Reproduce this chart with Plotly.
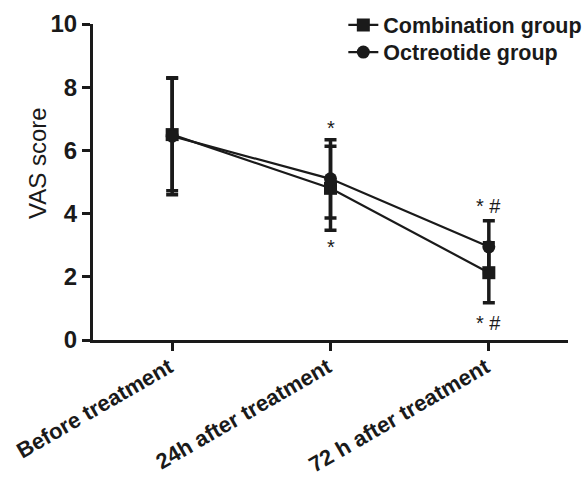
import plotly.graph_objects as go

categories = ["Before treatment", "24h after treatment", "72 h after treatment"]
combination_mean = [6.50, 4.80, 2.13]
combination_sd = [1.78, 1.33, 0.95]
octreotide_mean = [6.45, 5.10, 2.95]
octreotide_sd = [1.85, 1.24, 0.82]
y_ticks = [0, 2, 4, 6, 8, 10]
y_title = "VAS score"

# significance marks: (category index, y value, text)
marks_x = [1, 1, 2, 2]
marks_y = [6.72, 2.95, 4.25, 0.55]
marks_text = ["*", "*", "* #", "* #"]

FONT = "Liberation Sans, Arial, sans-serif"
INK = "#1a1a1a"

fig = go.Figure()
xs = list(range(len(categories)))
fig.add_trace(go.Scatter(
    x=xs, y=combination_mean, name="Combination group", mode="lines+markers",
    line=dict(color=INK, width=2.2),
    marker=dict(symbol="square", size=13, color=INK),
    error_y=dict(type="data", array=combination_sd, visible=True, color=INK, thickness=3.5, width=6),
    legend="legend",
))
fig.add_trace(go.Scatter(
    x=xs, y=octreotide_mean, name="Octreotide group", mode="lines+markers",
    line=dict(color=INK, width=2.2),
    marker=dict(symbol="circle", size=13, color=INK),
    error_y=dict(type="data", array=octreotide_sd, visible=True, color=INK, thickness=3.5, width=6),
    legend="legend2",
))

for xi, yi, t in zip(marks_x, marks_y, marks_text):
    fig.add_annotation(x=xi, y=yi, text=t, showarrow=False,
                       font=dict(family=FONT, size=20, color=INK),
                       xanchor="center", yanchor="middle")

# y-axis title placed as rotated annotation (sits slightly above axis centre in the reference)
fig.add_annotation(x=-0.118, y=0.56, xref="paper", yref="paper", text=y_title,
                   textangle=-90, showarrow=False, xanchor="center", yanchor="middle",
                   font=dict(family=FONT, size=24, color=INK))

legend_common = dict(xanchor="left", yanchor="middle",
                     font=dict(family=FONT, size=21.5, color=INK, weight="bold"),
                     bgcolor="rgba(0,0,0,0)", itemwidth=30)

fig.update_layout(
    width=585, height=490,
    margin=dict(l=93, r=17, t=24, b=150, autoexpand=False),
    paper_bgcolor="white", plot_bgcolor="white",
    showlegend=True,
    legend=dict(x=0.527, y=0.997, **legend_common),
    legend2=dict(x=0.527, y=0.911, **legend_common),
    font=dict(family=FONT, color=INK),
)
fig.update_xaxes(
    range=[-0.5, 2.5], tickmode="array", tickvals=xs, ticktext=categories,
    tickangle=-30, showline=True, linecolor=INK, linewidth=3,
    ticks="outside", ticklen=8, tickwidth=2.5, tickcolor=INK,
    showgrid=False, zeroline=False,
    ticklabelstandoff=-5, ticklabelshift=-3,
    tickfont=dict(family=FONT, size=22, color=INK, weight="bold"),
)
fig.update_yaxes(
    range=[0, 10], tickvals=y_ticks, showline=True, linecolor=INK, linewidth=3,
    ticks="outside", ticklen=8, tickwidth=2.5, tickcolor=INK,
    showgrid=False, zeroline=False,
    tickfont=dict(family=FONT, size=24, color=INK, weight="bold"),
)

fig.write_html("out.html", config={"displayModeBar": False},
               post_script="document.body.style.margin='0';")
